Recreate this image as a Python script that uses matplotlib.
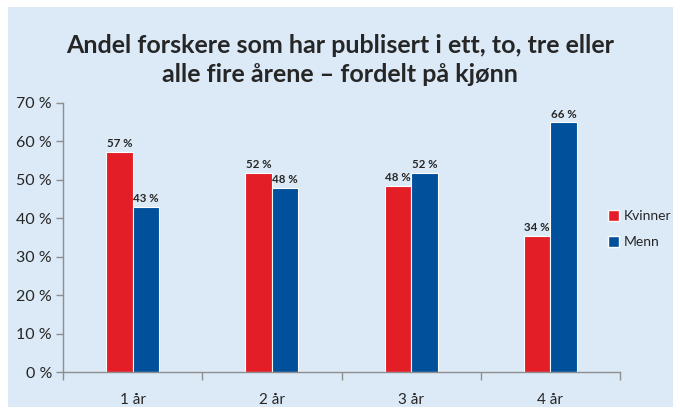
import matplotlib.pyplot as plt
import numpy as np
from matplotlib.patches import Rectangle, Patch

categories = ["1 år", "2 år", "3 år", "4 år"]
kvinner = [57.3, 51.8, 48.4, 35.4]
menn = [43.0, 47.9, 51.8, 65.0]
kvinner_labels = ["57 %", "52 %", "48 %", "34 %"]
menn_labels = ["43 %", "48 %", "52 %", "66 %"]
yticks = [0, 10, 20, 30, 40, 50, 60, 70]

red = "#E31E26"
blue = "#00509B"
panel = "#DCEAF7"
axis_gray = "#8E8E8E"
text_col = "#262626"

plt.rcParams['font.family'] = ['Lato', 'DejaVu Sans']

fig = plt.figure(figsize=(6.8, 4.12), dpi=100)
fig.patch.set_facecolor("white")
fig.patches.append(Rectangle((8/680, 5/412), 665/680, 400/412, transform=fig.transFigure,
                             facecolor=panel, edgecolor="none", zorder=-10))

ax = fig.add_axes([63/680, 40/412, 557/680, 269/412])
ax.set_facecolor("none")

x = np.arange(len(categories))
w = 0.19
b1 = ax.bar(x - w/2, kvinner, w, color=red, edgecolor="white", linewidth=0.8, label="Kvinner")
b2 = ax.bar(x + w/2, menn, w, color=blue, edgecolor="white", linewidth=0.8, label="Menn")

for rect, lab in zip(b1, kvinner_labels):
    ax.text(rect.get_x() + rect.get_width()/2, rect.get_height() + 0.7, lab,
            ha="center", va="bottom", fontsize=8.3, fontweight="bold", color=text_col)
for rect, lab in zip(b2, menn_labels):
    ax.text(rect.get_x() + rect.get_width()/2, rect.get_height() + 0.7, lab,
            ha="center", va="bottom", fontsize=8.3, fontweight="bold", color=text_col)

ax.set_xlim(-0.5, 3.5)
ax.set_ylim(0, 70)
ax.set_yticks(yticks)
ax.set_yticklabels([f"{t} %" for t in yticks], fontsize=11.5, color=text_col)
ax.set_xticks(x)
ax.set_xticklabels(categories, fontsize=11, color=text_col)
ax.set_xticks(np.arange(-0.5, 3.6, 1), minor=True)
ax.tick_params(axis="x", which="major", length=0, pad=15)
ax.tick_params(axis="x", which="minor", length=6, color=axis_gray, width=1)
ax.tick_params(axis="y", length=5, color=axis_gray, width=1, pad=3)

for s in ["top", "right"]:
    ax.spines[s].set_visible(False)
for s in ["left", "bottom"]:
    ax.spines[s].set_color(axis_gray)
    ax.spines[s].set_linewidth(1)

handles = [Patch(facecolor=red, edgecolor="white", label="Kvinner"),
           Patch(facecolor=blue, edgecolor="white", label="Menn")]
fig.legend(handles=handles, loc="center left", bbox_to_anchor=(604/680, (412 - 229)/412),
           frameon=False, fontsize=10, handlelength=0.8, handleheight=0.8,
           handletextpad=0.35, labelspacing=1.0, labelcolor=text_col,
           borderaxespad=0, borderpad=0.3)

fig.text(0.5, 0.855, "Andel forskere som har publisert i ett, to, tre eller\nalle fire årene – fordelt på kjønn",
         ha="center", va="center", fontsize=18, fontweight="bold", color=text_col,
         linespacing=1.3)

fig.savefig("out.png", dpi=100, facecolor=fig.get_facecolor())
